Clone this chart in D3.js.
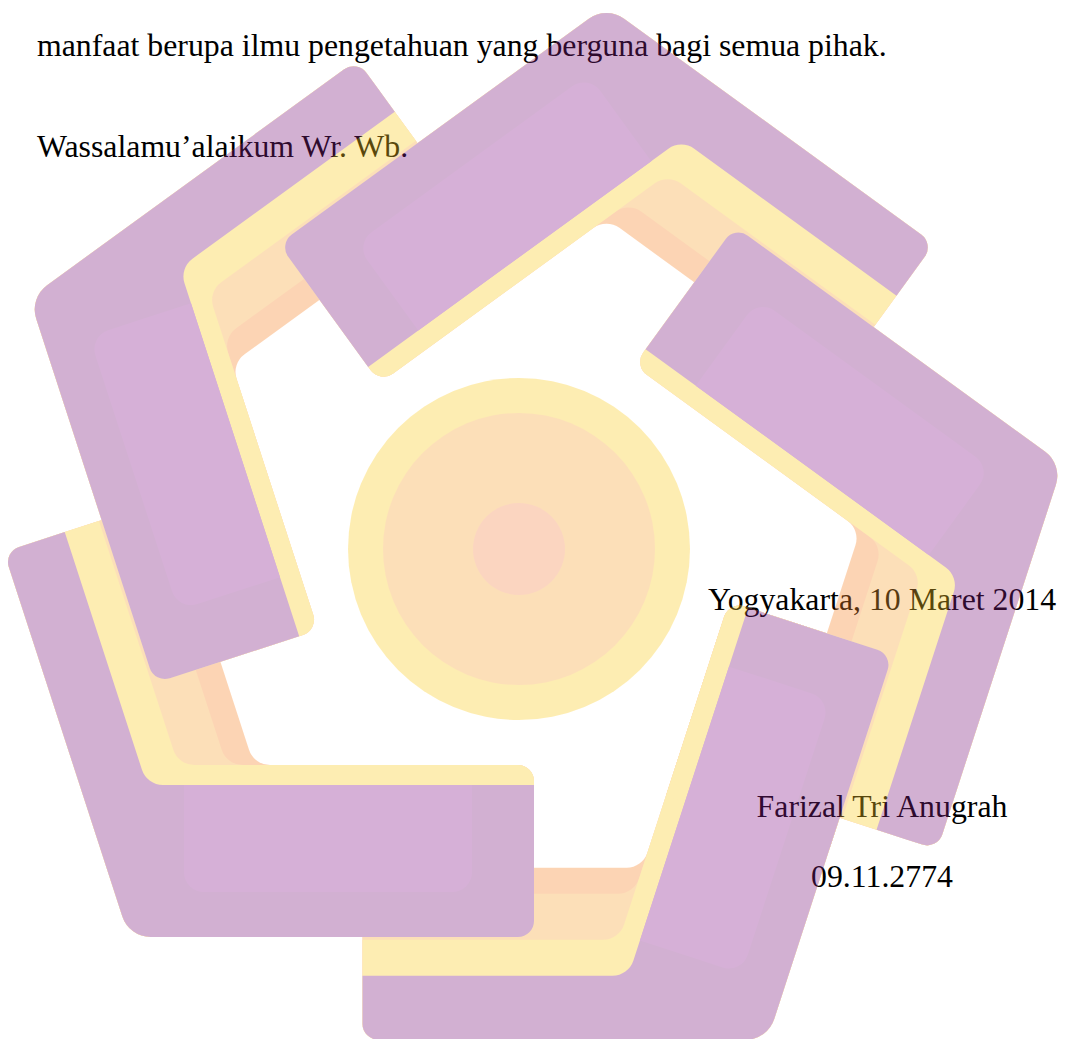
<!DOCTYPE html>
<html>
<head>
<meta charset="utf-8">
<script src="https://cdn.jsdelivr.net/npm/d3@7"></script>
<style>
  body { margin: 0; background: #fff; }
  svg { display: block; }
</style>
</head>
<body>
<svg id="page"></svg>
<script>
const width = 1065;
const height = 1039;

// page text
const textLines = [
  "manfaat berupa ilmu pengetahuan yang berguna bagi semua pihak.",
  "Wassalamu\u2019alaikum Wr. Wb.",
  "Yogyakarta, 10 Maret 2014",
  "Farizal Tri Anugrah",
  "09.11.2774",
];
const textX = [37, 37, 882, 882, 882];
const textY = [56, 157, 610, 817, 887];
const textAnchor = ["start", "start", "middle", "middle", "middle"];

// watermark: five bent arms turned around the centre, in drawing order
const armAngles = [-72, 0, 72, 144, 216];
const layerNames = ["orange", "peach", "yellow", "purple"];
const layerColors = ["#f9872c", "#f9a637", "#fccc26", "#812081"];
const slopeDepth = [172, 146, 100, 64];
const flatDepth = [172, 172, 172, 152];
// centre disc
const discRadii = [171, 136, 46];
const discColors = ["#fccc26", "#f9a637", "#f68a4e"];

const center = [519, 549];
const corner = [129, 937];
const legLength = 405;
const full = 172;
const rad = Math.PI / 180;
const dirFlat = [1, 0];
const normFlat = [0, -1];
const dirSlope = [-Math.sin(18 * rad), -Math.cos(18 * rad)];
const normSlope = [Math.cos(18 * rad), -Math.sin(18 * rad)];

let svg = d3.select("#page").attr("width", width).attr("height", height);

svg
  .append("g")
  .selectAll("text")
  .data(textLines)
  .join("text")
  .attr("x", (d, i) => textX[i])
  .attr("y", (d, i) => textY[i])
  .attr("text-anchor", (d, i) => textAnchor[i])
  .style("font-family", "'Liberation Serif', 'Times New Roman', serif")
  .style("font-size", "31.8px")
  .style("fill", "#000")
  .text((d) => d);

function pt(a, da, b, db) {
  return [
    corner[0] + a * da[0] + b * db[0],
    corner[1] + a * da[1] + b * db[1],
  ];
}

// outline of one layer of the arm drawn at the bottom-left
function layerPoints(d1, d2) {
  let s = (d1 - d2 * Math.sin(18 * rad)) / Math.cos(18 * rad);
  return [
    [...pt(legLength, dirSlope, 0, normSlope), 16],
    [...corner, 30],
    [...pt(legLength, dirFlat, 0, normFlat), 16],
    [...pt(legLength, dirFlat, d2, normFlat), d2 === full ? 16 : 0],
    [...pt(s, dirFlat, d2, normFlat), 22],
    [...pt(legLength, dirSlope, d1, normSlope), d1 === full ? 16 : 0],
  ];
}

function highlightPoints() {
  return [
    [...pt(55, dirFlat, 45, normFlat), 20],
    [...pt(legLength - 62, dirFlat, 45, normFlat), 20],
    [...pt(legLength - 62, dirFlat, flatDepth[3], normFlat), 0],
    [...pt(55, dirFlat, flatDepth[3], normFlat), 0],
  ];
}

function roundedPath(pts) {
  let p = d3.path();
  let n = pts.length;
  p.moveTo((pts[n - 1][0] + pts[0][0]) / 2, (pts[n - 1][1] + pts[0][1]) / 2);
  for (let i = 0; i < n; i++) {
    let a = pts[i];
    let b = pts[(i + 1) % n];
    p.arcTo(a[0], a[1], (a[0] + b[0]) / 2, (a[1] + b[1]) / 2, a[2]);
  }
  p.closePath();
  return p.toString();
}

let color = d3.scaleOrdinal().domain(layerNames).range(layerColors);

let logo = svg.append("g").attr("opacity", 0.35);

logo
  .append("g")
  .selectAll("circle")
  .data(discRadii)
  .join("circle")
  .attr("cx", center[0])
  .attr("cy", center[1])
  .attr("r", (d) => d)
  .style("fill", (d, i) => discColors[i]);

logo
  .append("defs")
  .append("mask")
  .attr("id", "arm-tip")
  .attr("maskUnits", "userSpaceOnUse")
  .attr("x", 0)
  .attr("y", 0)
  .attr("width", width)
  .attr("height", height)
  .append("rect")
  .attr("x", 330)
  .attr("y", 700)
  .attr("width", 270)
  .attr("height", 300)
  .style("fill", "#fff");

function drawArm(g) {
  g.selectAll(".layer")
    .data(layerNames)
    .join("path")
    .attr("class", "layer")
    .attr("d", (d, i) => roundedPath(layerPoints(slopeDepth[i], flatDepth[i])))
    .style("fill", (d) => color(d));
  g.append("path")
    .attr("d", roundedPath(highlightPoints()))
    .style("fill", "#8d2090");
}

armAngles.forEach((angle) => {
  let g = logo
    .append("g")
    .attr("transform", `rotate(${angle},${center[0]},${center[1]})`);
  drawArm(g);
});

// the first arm's tip lies over the last arm
logo
  .append("g")
  .attr("transform", `rotate(${armAngles[0]},${center[0]},${center[1]})`)
  .append("g")
  .attr("mask", "url(#arm-tip)")
  .call(drawArm);
</script>
</body>
</html>
